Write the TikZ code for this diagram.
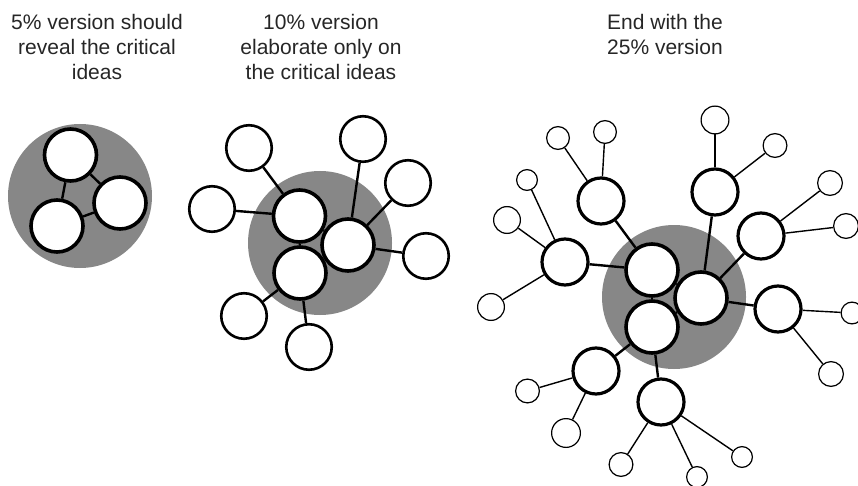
\documentclass[tikz,border=0pt]{standalone}
\usepackage{fontspec}
\setmainfont{Liberation Sans}
\definecolor{blob}{gray}{0.53}

\begin{document}
\begin{tikzpicture}[x=1pt, y=-1pt,
    core/.style={circle, draw, fill=white, line width=3.6pt, minimum size=52pt, inner sep=0pt},
    outer/.style={circle, draw, fill=white, line width=2.6pt, minimum size=45.5pt, inner sep=0pt},
    mid/.style={circle, draw, fill=white, line width=3.2pt, minimum size=46pt, inner sep=0pt},
    leaf/.style={circle, draw, fill=white, line width=1.2pt, minimum size=#1, inner sep=0pt},
    leaf/.default=24pt,
    link/.style={line width=2.4pt},
    twig/.style={line width=1.4pt},
    title/.style={align=center, anchor=north, inner sep=0pt, text=black!85, font=\fontsize{21}{25}\selectfont}]
    \clip (0,0) rectangle (858,486);

    % titles
    \node [title] (head5) at (97,14.5) {5\% version should\\reveal the critical\\ideas};
    \node [title] (head10) at (321,14.5) {10\% version\\elaborate only on\\the critical ideas};
    \node [title] (head25) at (665,14.5) {End with the\\25\% version};

    % 5% version
    \fill [blob] (80,196) circle (72);
    \node [core] (fa) at (70.5,155) {};
    \node [core] (fb) at (120,203) {};
    \node [core] (fc) at (57,226) {};
    \draw [link] (fa) -- (fb);
    \draw [link] (fa) -- (fc);
    \draw [link] (fc) -- (fb);

    % 10% version
    \fill [blob] (320,243) circle (72);
    \node [core] (ta) at (299.5,216) {};
    \node [core] (tb) at (348,245) {};
    \node [core] (tc) at (300,273) {};
    \node [outer] (t1) at (249,148) {};
    \node [outer] (t2) at (212,209) {};
    \node [outer] (t3) at (363,139) {};
    \node [outer] (t4) at (408,183) {};
    \node [outer] (t5) at (426,256) {};
    \node [outer] (t6) at (244,316) {};
    \node [outer] (t7) at (309,347) {};
    \draw [link] (ta) -- (tb);
    \draw [link] (ta) -- (tc);
    \draw [link] (tc) -- (tb);
    \draw [link] (ta) -- (t1);
    \draw [link] (ta) -- (t2);
    \draw [link] (tb) -- (t3);
    \draw [link] (tb) -- (t4);
    \draw [link] (tb) -- (t5);
    \draw [link] (tc) -- (t6);
    \draw [link] (tc) -- (t7);

    % 25% version
    \fill [blob] (674,297) circle (72);
    \node [core] (qa) at (652,270) {};
    \node [core] (qb) at (701,298) {};
    \node [core] (qc) at (652,327) {};
    \node [mid] (m1) at (601,201) {};
    \node [mid] (m2) at (565,262) {};
    \node [mid] (m3) at (715,192) {};
    \node [mid] (m4) at (761,236) {};
    \node [mid] (m5) at (778,309) {};
    \node [mid] (m6) at (596,371) {};
    \node [mid] (m7) at (661,402) {};
    \node [leaf=22.8pt] (l1) at (558,138) {};
    \node [leaf=22.8pt] (l2) at (605,132) {};
    \node [leaf=20.8pt] (l3) at (527,180) {};
    \node [leaf=26.8pt] (l4) at (507,220) {};
    \node [leaf=26.8pt] (l5) at (491,307) {};
    \node [leaf=27.8pt] (l6) at (715,120) {};
    \node [leaf=23.8pt] (l7) at (775,145.5) {};
    \node [leaf=24.8pt] (l8) at (830,183) {};
    \node [leaf=24.8pt] (l9) at (846,226) {};
    \node [leaf=21.8pt] (l10) at (852,313) {};
    \node [leaf=24.8pt] (l11) at (831,374) {};
    \node [leaf=23.8pt] (l12) at (527.5,391) {};
    \node [leaf=28.8pt] (l13) at (566,433) {};
    \node [leaf=23.8pt] (l14) at (621,464.5) {};
    \node [leaf=20.8pt] (l15) at (697,477) {};
    \node [leaf=20.8pt] (l16) at (742,457) {};
    \draw [link] (qa) -- (qb);
    \draw [link] (qa) -- (qc);
    \draw [link] (qc) -- (qb);
    \draw [link] (qa) -- (m1);
    \draw [link] (qa) -- (m2);
    \draw [link] (qb) -- (m3);
    \draw [link] (qb) -- (m4);
    \draw [link] (qb) -- (m5);
    \draw [link] (qc) -- (m6);
    \draw [link] (qc) -- (m7);
    \draw [twig] (m1) -- (l1);
    \draw [twig] (m1) -- (l2);
    \draw [twig] (m2) -- (l3);
    \draw [twig] (m2) -- (l4);
    \draw [twig] (m2) -- (l5);
    \draw [twig] (m3) -- (l6);
    \draw [twig] (m3) -- (l7);
    \draw [twig] (m4) -- (l8);
    \draw [twig] (m4) -- (l9);
    \draw [twig] (m5) -- (l10);
    \draw [twig] (m5) -- (l11);
    \draw [twig] (m6) -- (l12);
    \draw [twig] (m6) -- (l13);
    \draw [twig] (m7) -- (l14);
    \draw [twig] (m7) -- (l15);
    \draw [twig] (m7) -- (l16);
\end{tikzpicture}
\end{document}
